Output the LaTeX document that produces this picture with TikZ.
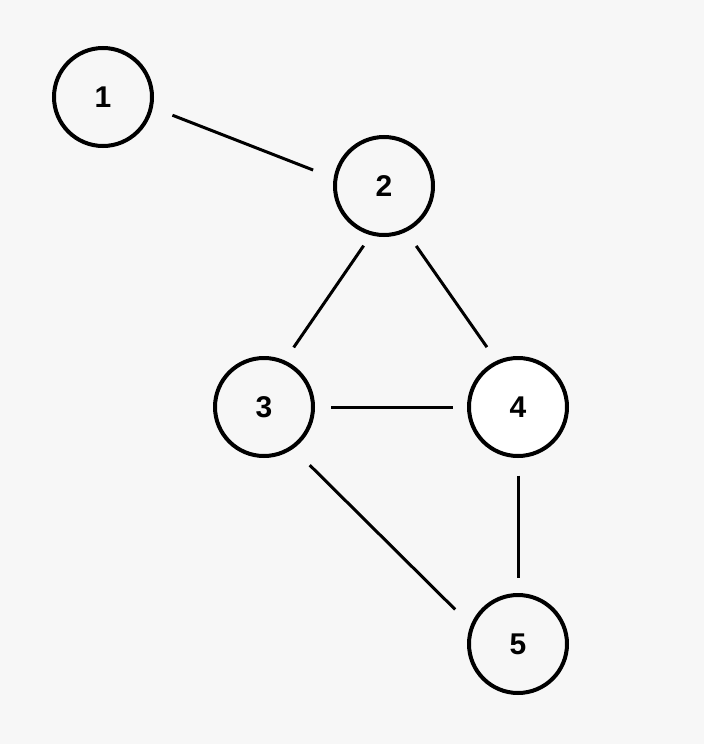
\documentclass[tikz,border=0pt]{standalone}
\usepackage{fontspec}
\setmainfont{Liberation Sans}
\usepackage{tikz}
\usetikzlibrary{positioning}
\definecolor{Canvas}{HTML}{F7F7F7}
\definecolor{Ink}{HTML}{000000}

\begin{document}
\begin{tikzpicture}[x=1pt,y=-1pt,
  vertex/.style={circle,draw=Ink,fill=Canvas,line width=4pt,minimum size=98pt,inner sep=0pt,font=\fontsize{30}{30}\selectfont\bfseries},
  hot/.style={vertex,fill=white},
  link/.style={draw=Ink,line width=3pt}
]
\fill[Canvas] (0,0) rectangle (704,744);
\useasboundingbox (0,0) rectangle (704,744);
\node[vertex] (n1) at (103,97) {1};
\node[vertex] (n2) at (384,186) {2};
\node[vertex] (n3) at (264,407) {3};
\node[hot] (n4) at (518,407) {4};
\node[vertex] (n5) at (518,644) {5};
\draw[link,shorten <=21pt,shorten >=22pt] (n1.348.5) -- (n2.171.3);
\draw[link,shorten <=12.6pt,shorten >=15.8pt] (n2.255.5) -- (n3.66.5);
\draw[link,shorten <=17.2pt,shorten >=16.6pt] (n2.296.7) -- (n4.115.5);
\draw[link,shorten <=16pt,shorten >=14.3pt] (n3.east) -- (n4.west);
\draw[link,shorten <=23.3pt,shorten >=21.9pt] (n3.305.4) -- (n5.158.7);
\draw[link,shorten <=17.7pt,shorten >=14.7pt] (n4.south) -- (n5.north);
\end{tikzpicture}
\end{document}
